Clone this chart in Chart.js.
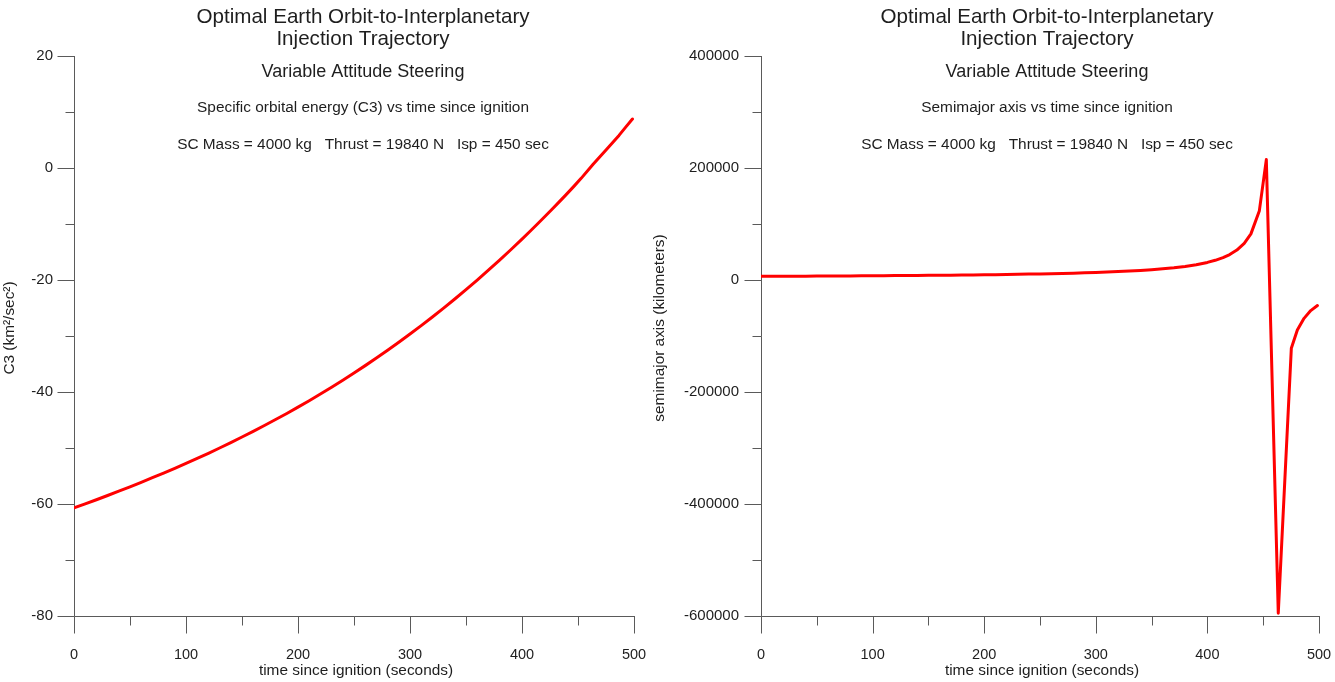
<!DOCTYPE html>
<html>
<head>
<meta charset="utf-8">
<script src="https://cdn.jsdelivr.net/npm/chart.js@4.4.1/dist/chart.umd.min.js"></script>
<style>
  html, body { margin: 0; padding: 0; background: #ffffff; }
  #wrap { position: relative; width: 1335px; height: 682px; overflow: hidden; }
  .panel { position: absolute; top: 0; height: 682px; }
  #p1 { left: 0; width: 667px; }
  #p2 { left: 640px; width: 695px; }
</style>
</head>
<body>
<div id="wrap">
  <div class="panel" id="p1"><canvas id="c3Chart" width="667" height="682"></canvas></div>
  <div class="panel" id="p2"><canvas id="smaChart" width="695" height="682"></canvas></div>
</div>
<script>
// Time since ignition (seconds) of each trajectory sample
const timeSec = [
  0, 10, 20, 30, 40, 50, 60, 70, 80, 90,
  100, 110, 120, 130, 140, 150, 160, 170, 180, 190,
  200, 210, 220, 230, 240, 250, 260, 270, 280, 290,
  300, 310, 320, 330, 340, 350, 360, 370, 380, 390,
  400, 407, 414, 420, 426.4, 433, 439, 446.5, 452.8, 463.5,
  475.2, 480.6, 486.6, 492.6, 498.6
];

// Specific orbital energy C3 (km^2/sec^2)
const c3Values = [
  -60.70, -59.97, -59.24, -58.48, -57.71, -56.93, -56.13, -55.31, -54.48, -53.62,
  -52.75, -51.85, -50.94, -50.00, -49.03, -48.04, -47.03, -45.99, -44.92, -43.83,
  -42.70, -41.55, -40.36, -39.14, -37.89, -36.61, -35.29, -33.93, -32.54, -31.12,
  -29.65, -28.15, -26.60, -25.02, -23.39, -21.72, -20.01, -18.25, -16.45, -14.60,
  -12.70, -11.34, -9.96, -8.76, -7.46, -6.10, -4.84, -3.24, -1.85, 0.67,
  3.27, 4.46, 5.82, 7.30, 8.75
];

// Semimajor axis (kilometers)
const semimajorKm = [
  6567, 6647, 6729, 6816, 6907, 7002, 7101, 7207, 7316, 7434,
  7556, 7688, 7825, 7972, 8130, 8297, 8475, 8667, 8874, 9094,
  9335, 9593, 9876, 10184, 10520, 10888, 11295, 11748, 12249, 12809,
  13444, 14160, 14985, 15931, 17042, 18352, 19920, 21841, 24231, 27301,
  31386, 35150, 40020, 45502, 53432, 65344, 82355, 123025, 215000, -595000,
  -122000, -89300, -68500, -54600, -45600
];

// Axis ranges and tick steps
const timeRange = [0, 500];
const timeLabelStep = 100;
const timeMinorStep = 50;
const c3Range = [-80, 20];
const c3LabelStep = 20;
const c3MinorStep = 10;
const smaRange = [-600000, 400000];
const smaLabelStep = 200000;
const smaMinorStep = 100000;

const headingMain = ['Optimal Earth Orbit-to-Interplanetary', 'Injection Trajectory'];
const headingSub = 'Variable Attitude Steering';
const headingParams = 'SC Mass = 4000 kg   Thrust = 19840 N   Isp = 450 sec';
const c3Heading = 'Specific orbital energy (C3) vs time since ignition';
const smaHeading = 'Semimajor axis vs time since ignition';
const xTitle = 'time since ignition (seconds)';
const c3Title = 'C3 (km\u00B2/sec\u00B2)';
const smaTitle = 'semimajor axis (kilometers)';

const FONT = '"Liberation Sans", Arial, Helvetica, sans-serif';
const TEXT = '#1e1e1e';
const AXIS = '#5a5a5a';

// Axis lines with long (labelled) and short (minor) tick marks
const axisMarks = {
  id: 'axisMarks',
  beforeDatasetsDraw(chart, args, o) {
    const { ctx, chartArea: a, scales: { x, y } } = chart;
    ctx.save();
    ctx.strokeStyle = AXIS;
    ctx.lineWidth = 1;
    ctx.beginPath();
    const ax = Math.round(a.left) + 0.5;
    const ay = Math.round(a.bottom) + 0.5;
    ctx.moveTo(ax, Math.round(a.top));
    ctx.lineTo(ax, ay);
    ctx.moveTo(ax, ay);
    ctx.lineTo(Math.round(a.right) + 1, ay);
    x.ticks.forEach(t => {
      const px = Math.round(x.getPixelForValue(t.value)) + 0.5;
      const len = (t.value % o.xMajor === 0) ? 17 : 9;
      ctx.moveTo(px, ay);
      ctx.lineTo(px, ay + len);
    });
    y.ticks.forEach(t => {
      const py = Math.round(y.getPixelForValue(t.value)) + 0.5;
      const len = (Math.abs(t.value) % o.yMajor === 0) ? 17 : 9;
      ctx.moveTo(ax, py);
      ctx.lineTo(ax - len, py);
    });
    ctx.stroke();
    ctx.restore();
  }
};

// Heading block and axis titles
const headings = {
  id: 'headings',
  afterDraw(chart, args, o) {
    const { ctx, chartArea: a } = chart;
    ctx.save();
    ctx.fillStyle = TEXT;
    ctx.textAlign = 'center';
    ctx.textBaseline = 'middle';
    const cx = o.centerX;
    ctx.font = '20.6px ' + FONT;
    ctx.fillText(headingMain[0], cx, 17);
    ctx.fillText(headingMain[1], cx, 39);
    ctx.font = '18px ' + FONT;
    ctx.fillText(headingSub, cx, 72);
    ctx.font = '15.4px ' + FONT;
    ctx.fillText(o.topic, cx, 108);
    ctx.fillText(headingParams, cx, 145);
    // x axis title
    ctx.fillText(xTitle, (a.left + a.right) / 2 + 2, 671);
    // y axis title
    ctx.translate(o.yTitleX, (a.top + a.bottom) / 2 - 8);
    ctx.rotate(-Math.PI / 2);
    ctx.fillText(o.yTitle, 0, 0);
    ctx.restore();
  }
};

function buildChart(canvasId, values, cfg) {
  const points = timeSec.map((t, i) => ({ x: t, y: values[i] }));
  return new Chart(document.getElementById(canvasId), {
    type: 'line',
    data: {
      datasets: [{
        data: points,
        borderColor: '#ff0000',
        borderWidth: 3,
        pointRadius: 0,
        tension: 0,
        fill: false,
        borderJoinStyle: 'round',
        borderCapStyle: 'round'
      }]
    },
    options: {
      responsive: false,
      animation: false,
      devicePixelRatio: 1,
      layout: { padding: { top: 56, right: cfg.rightPad, left: 0, bottom: 0 } },
      plugins: {
        legend: { display: false },
        tooltip: { enabled: false },
        axisMarks: { xMajor: timeLabelStep, yMajor: cfg.yLabelStep },
        headings: { centerX: cfg.centerX, topic: cfg.topic, yTitle: cfg.yTitle, yTitleX: cfg.yTitleX }
      },
      scales: {
        x: {
          type: 'linear',
          min: timeRange[0],
          max: timeRange[1],
          afterFit(s) { s.height = 66; s.paddingLeft = 0; s.paddingRight = 0; },
          grid: { display: false, drawTicks: false },
          border: { display: false },
          ticks: {
            stepSize: timeMinorStep,
            autoSkip: false,
            maxRotation: 0,
            padding: 30,
            color: TEXT,
            font: { family: FONT, size: 14.5 },
            callback: v => (v % timeLabelStep === 0 ? String(v) : '')
          }
        },
        y: {
          type: 'linear',
          min: cfg.yRange[0],
          max: cfg.yRange[1],
          afterFit(s) { s.width = cfg.yWidth; s.paddingTop = 0; s.paddingBottom = 0; },
          grid: { display: false, drawTicks: false },
          border: { display: false },
          ticks: {
            stepSize: cfg.yMinorStep,
            autoSkip: false,
            padding: cfg.yLabelPad,
            color: TEXT,
            font: { family: FONT, size: 15 },
            callback: v => (Math.abs(v) % cfg.yLabelStep === 0 ? String(v) : '')
          }
        }
      }
    },
    plugins: [axisMarks, headings]
  });
}

buildChart('c3Chart', c3Values, {
  rightPad: 33, yWidth: 74, yRange: c3Range, yLabelStep: c3LabelStep, yMinorStep: c3MinorStep,
  yLabelPad: 21, centerX: 363, topic: c3Heading, yTitle: c3Title, yTitleX: 10
});

buildChart('smaChart', semimajorKm, {
  rightPad: 16, yWidth: 121, yRange: smaRange, yLabelPad: 22, yLabelStep: smaLabelStep, yMinorStep: smaMinorStep,
  centerX: 407, topic: smaHeading, yTitle: smaTitle, yTitleX: 20
});
</script>
</body>
</html>
